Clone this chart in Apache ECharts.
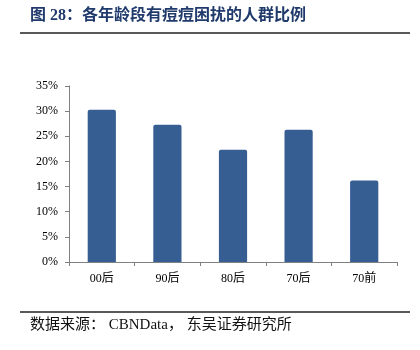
<!DOCTYPE html>
<html><head><meta charset="utf-8">
<script src="https://cdn.jsdelivr.net/npm/echarts@6/dist/echarts.min.js"></script>
<style>html,body{margin:0;padding:0;background:#fff}#c{width:420px;height:350px}</style>
</head><body><div id="c"></div>
<script>
const categories = ['00后', '90后', '80后', '70后', '70前'];
const values = [30.3, 27.3, 22.3, 26.3, 16.2];
const yTicks = [0, 5, 10, 15, 20, 25, 30, 35];
const titleText = '图 28：各年龄段有痘痘困扰的人群比例';
const sourceText = '数据来源： CBNData， 东吴证券研究所';

const chart = echarts.init(document.getElementById('c'));
const fontF = '"Liberation Serif","Times New Roman","Noto Sans CJK SC",serif';
chart.setOption({
  animation: false,
  grid: { left: 69, right: 23, top: 86, bottom: 88 },
  xAxis: {
    type: 'category', data: categories,
    axisLine: { lineStyle: { color: '#808080', width: 1 } },
    axisTick: { show: true, length: 4, lineStyle: { color: '#808080' } },
    axisLabel: { color: '#000', fontSize: 12, fontFamily: fontF, margin: 11 }
  },
  yAxis: {
    type: 'value', min: yTicks[0], max: yTicks[yTicks.length - 1], interval: 5,
    splitLine: { show: false },
    axisLine: { show: true, lineStyle: { color: '#808080', width: 1 } },
    axisTick: { show: true, length: 4, lineStyle: { color: '#808080' } },
    axisLabel: { color: '#000', fontSize: 12, fontFamily: fontF, margin: 11, formatter: v => v + '%' }
  },
  series: [{
    type: 'bar', data: values, barWidth: '43%',
    itemStyle: { color: '#375e92', borderRadius: [2, 2, 0, 0] }
  }],
  graphic: [
    { type: 'text', left: 30, top: 8, style: { text: titleText, font: 'bold 16px "Liberation Serif","Noto Sans CJK SC",serif', fill: '#1f3a6b' } },
    { type: 'line', shape: { x1: 20, y1: 33, x2: 410, y2: 33 }, style: { stroke: '#222', lineWidth: 1.5 } },
    { type: 'line', shape: { x1: 20, y1: 312, x2: 410, y2: 312 }, style: { stroke: '#222', lineWidth: 1.5 } },
    { type: 'text', left: 30, top: 318, style: { text: sourceText, font: '15px "Liberation Serif","Noto Sans CJK SC",serif', fill: '#111' } }
  ]
});
</script></body></html>
